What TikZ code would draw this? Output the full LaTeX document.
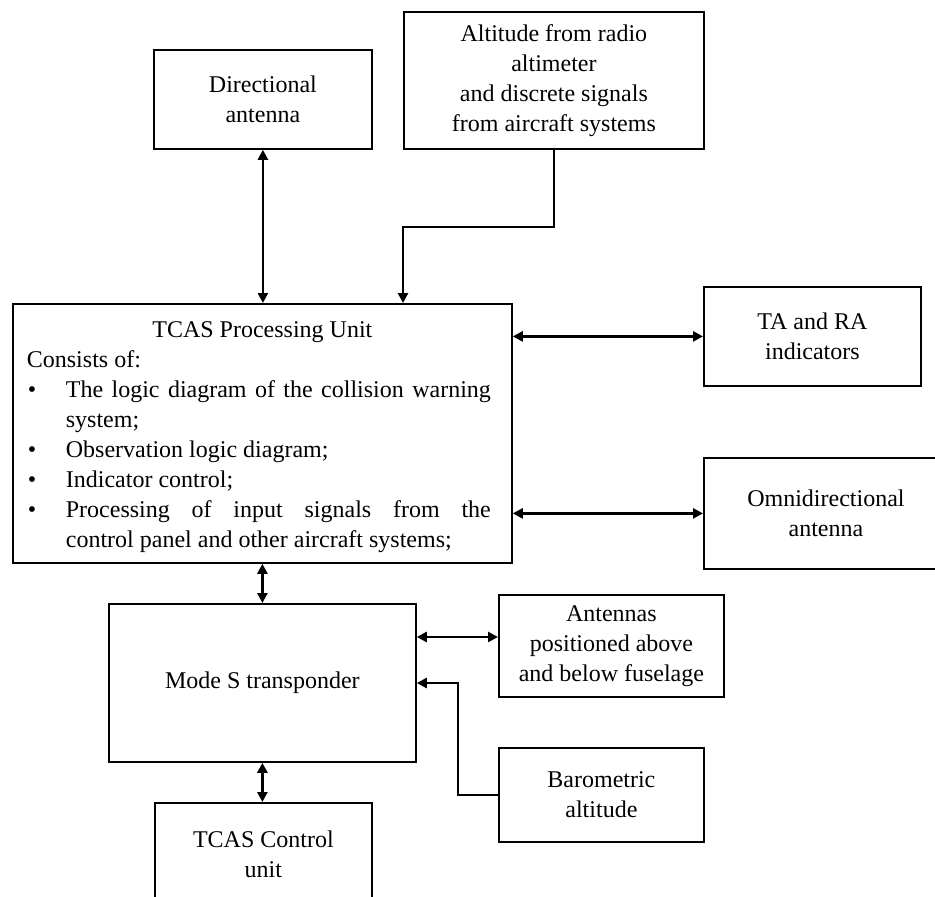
\documentclass[tikz,border=0pt]{standalone}
\usepackage{fontspec}
\setmainfont{Liberation Serif}
\usetikzlibrary{arrows.meta}

% bullet line with hanging indent for the processing-unit list
\newcommand{\bitem}[1]{\par\noindent\hangindent=39pt\hangafter=1\makebox[39pt][l]{\hspace{1pt}•}#1}

\begin{document}
\begin{tikzpicture}[x=1pt,y=-1pt,
  blk/.style={draw=black, line width=1.8pt, rectangle, inner sep=0pt,
    anchor=north west, align=center, font=\fontsize{24}{30}\selectfont},
  conn/.style={line width=2.5pt, draw=black},
  >={Triangle[length=10pt,width=10pt]}]

\useasboundingbox (0,0) rectangle (935,897);
\clip (0,0) rectangle (935,897);

% blocks
\node[blk, minimum width=218pt, minimum height=99pt] (dir) at (153,49)
  {Directional\\antenna};
\node[blk, minimum width=300pt, minimum height=137pt] (alt) at (403,11)
  {Altitude from radio\\altimeter\\and discrete signals\\from aircraft systems};
\node[blk, minimum width=499pt, minimum height=259pt, text width=471pt,
  inner xsep=14pt, inner ysep=0pt, align=justify] (tcas) at (12,303)
  {\parindent=0pt\rightskip=7pt
   {\centering\noindent\rule{0pt}{24pt}TCAS Processing Unit\par}
   \noindent Consists of:\par
   \bitem{The logic diagram of the collision warning\linebreak system;}
   \bitem{Observation logic diagram;}
   \bitem{Indicator control;}
   \bitem{Processing of input signals from the\linebreak control panel and other aircraft systems;}\par};
\node[blk, minimum width=217pt, minimum height=99pt] (tara) at (703,286)
  {TA and RA\\indicators};
\node[blk, minimum width=244pt, minimum height=111pt] (omni) at (703,457)
  {Omnidirectional\\antenna};
\node[blk, minimum width=307pt, minimum height=158pt] (modes) at (108,603)
  {Mode S transponder};
\node[blk, minimum width=225pt, minimum height=102pt] (ant) at (498,594)
  {Antennas\\positioned above\\and below fuselage};
\node[blk, minimum width=205pt, minimum height=94pt] (baro) at (498,747)
  {Barometric\\altitude};
\node[blk, minimum width=217pt, minimum height=102pt] (ctrl) at (154,802)
  {TCAS Control\\unit};

% bend points and levels of the connectors
\coordinate (altbend) at (403,227);
\coordinate (antlvl) at (0,637);
\coordinate (barobend) at (458,683);

% connectors
\draw[conn, <->] (dir.south) -- (dir.south |- tcas.north);
\draw[conn, ->] (alt.south) |- (altbend) -- (altbend |- tcas.north);
\draw[conn, <->] (tcas.east |- tara.west) -- (tara.west);
\draw[conn, <->] (tcas.east |- omni.west) -- (omni.west);
\draw[conn, <->] (tcas.south) -- (tcas.south |- modes.north);
\draw[conn, <->] (modes.east |- antlvl) -- (ant.west |- antlvl);
\draw[conn, ->] (baro.west) -| (barobend) -- (modes.east |- barobend);
\draw[conn, <->] (modes.south) -- (modes.south |- ctrl.north);
\end{tikzpicture}
\end{document}
